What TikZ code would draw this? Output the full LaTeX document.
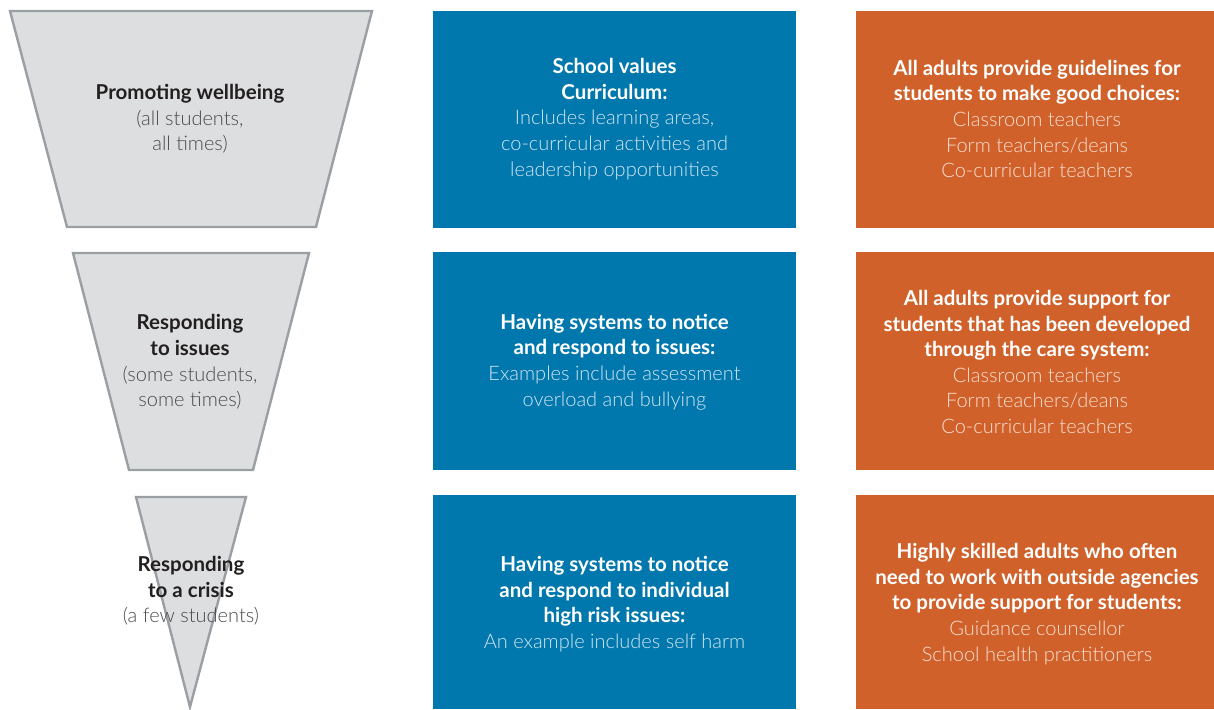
\documentclass[tikz,border=0pt]{standalone}
\usepackage{fontspec}
\setmainfont{Lato}
\newfontfamily\lightfont{Lato Light}
\definecolor{bluebox}{HTML}{0077AD}
\definecolor{orangebox}{HTML}{D0612A}
\definecolor{funnelfill}{HTML}{DCDEDF}
\definecolor{funneldraw}{HTML}{9A9FA3}
\definecolor{darktext}{HTML}{231F20}
\definecolor{greytext}{HTML}{4A4A4A}
\definecolor{bluelight}{HTML}{D2E6F1}
\definecolor{orangelight}{HTML}{F8E0D2}
\newcommand{\hd}[1]{{\fontsize{20.5}{25.6}\selectfont\bfseries #1}}
\newcommand{\lt}[2]{{\lightfont\fontsize{20}{25.6}\selectfont\color{#1}#2}}
\tikzset{
  funnel/.style={fill=funnelfill, draw=funneldraw, line width=2.4pt, line join=miter},
  txt/.style={align=center, font=\fontsize{20}{25.6}\selectfont, inner sep=0pt},
  ftxt/.style={txt, text=darktext},
  btxt/.style={txt, text=white},
  otxt/.style={txt, text=white}
}
\begin{document}
\begin{tikzpicture}[x=1pt,y=-1pt]
\useasboundingbox (0,0) rectangle (1214,709);
% funnel shapes
\draw[funnel] (10,11) -- (372,11) -- (316,227) -- (67,227) -- cycle;
\draw[funnel] (73,253) -- (309,253) -- (253,470) -- (129,470) -- cycle;
\draw[funnel] (136,497) -- (246,497) -- (190,707) -- cycle;
% boxes
\fill[bluebox] (433,11) rectangle (796,228);
\fill[bluebox] (433,252) rectangle (796,470);
\fill[bluebox] (433,495) rectangle (796,709);
\fill[orangebox] (856,11) rectangle (1214,228);
\fill[orangebox] (856,252) rectangle (1214,470);
\fill[orangebox] (856,495) rectangle (1214,709);
% funnel texts
\node[ftxt] (f1) at (190,119) {\hd{Promoting wellbeing}\\\lt{greytext}{(all students,}\\\lt{greytext}{all times)}};
\node[ftxt] (f2) at (190,362) {\hd{Responding}\\\hd{to issues}\\\lt{greytext}{(some students,}\\\lt{greytext}{some times)}};
\node[ftxt] (f3) at (191,591) {\hd{Responding}\\\hd{to a crisis}\\\lt{greytext}{(a few students)}};
% blue texts
\node[btxt] (b1) at (614.5,119) {\hd{School values}\\\hd{Curriculum:}\\\lt{bluelight}{Includes learning areas,}\\\lt{bluelight}{co-curricular activities and}\\\lt{bluelight}{leadership opportunities}};
\node[btxt] (b2) at (614.5,362) {\hd{Having systems to notice}\\\hd{and respond to issues:}\\\lt{bluelight}{Examples include assessment}\\\lt{bluelight}{overload and bullying}};
\node[btxt] (b3) at (614.5,604) {\hd{Having systems to notice}\\\hd{and respond to individual}\\\hd{high risk issues:}\\\lt{bluelight}{An example includes self harm}};
% orange texts
\node[otxt] (o1) at (1037,119) {\hd{All adults provide guidelines for}\\\hd{students to make good choices:}\\\lt{orangelight}{Classroom teachers}\\\lt{orangelight}{Form teachers/deans}\\\lt{orangelight}{Co-curricular teachers}};
\node[otxt] (o2) at (1037,362) {\hd{All adults provide support for}\\\hd{students that has been developed}\\\hd{through the care system:}\\\lt{orangelight}{Classroom teachers}\\\lt{orangelight}{Form teachers/deans}\\\lt{orangelight}{Co-curricular teachers}};
\node[otxt] (o3) at (1037,604) {\hd{Highly skilled adults who often}\\\hd{need to work with outside agencies}\\\hd{to provide support for students:}\\\lt{orangelight}{Guidance counsellor}\\\lt{orangelight}{School health practitioners}};
\end{tikzpicture}
\end{document}
